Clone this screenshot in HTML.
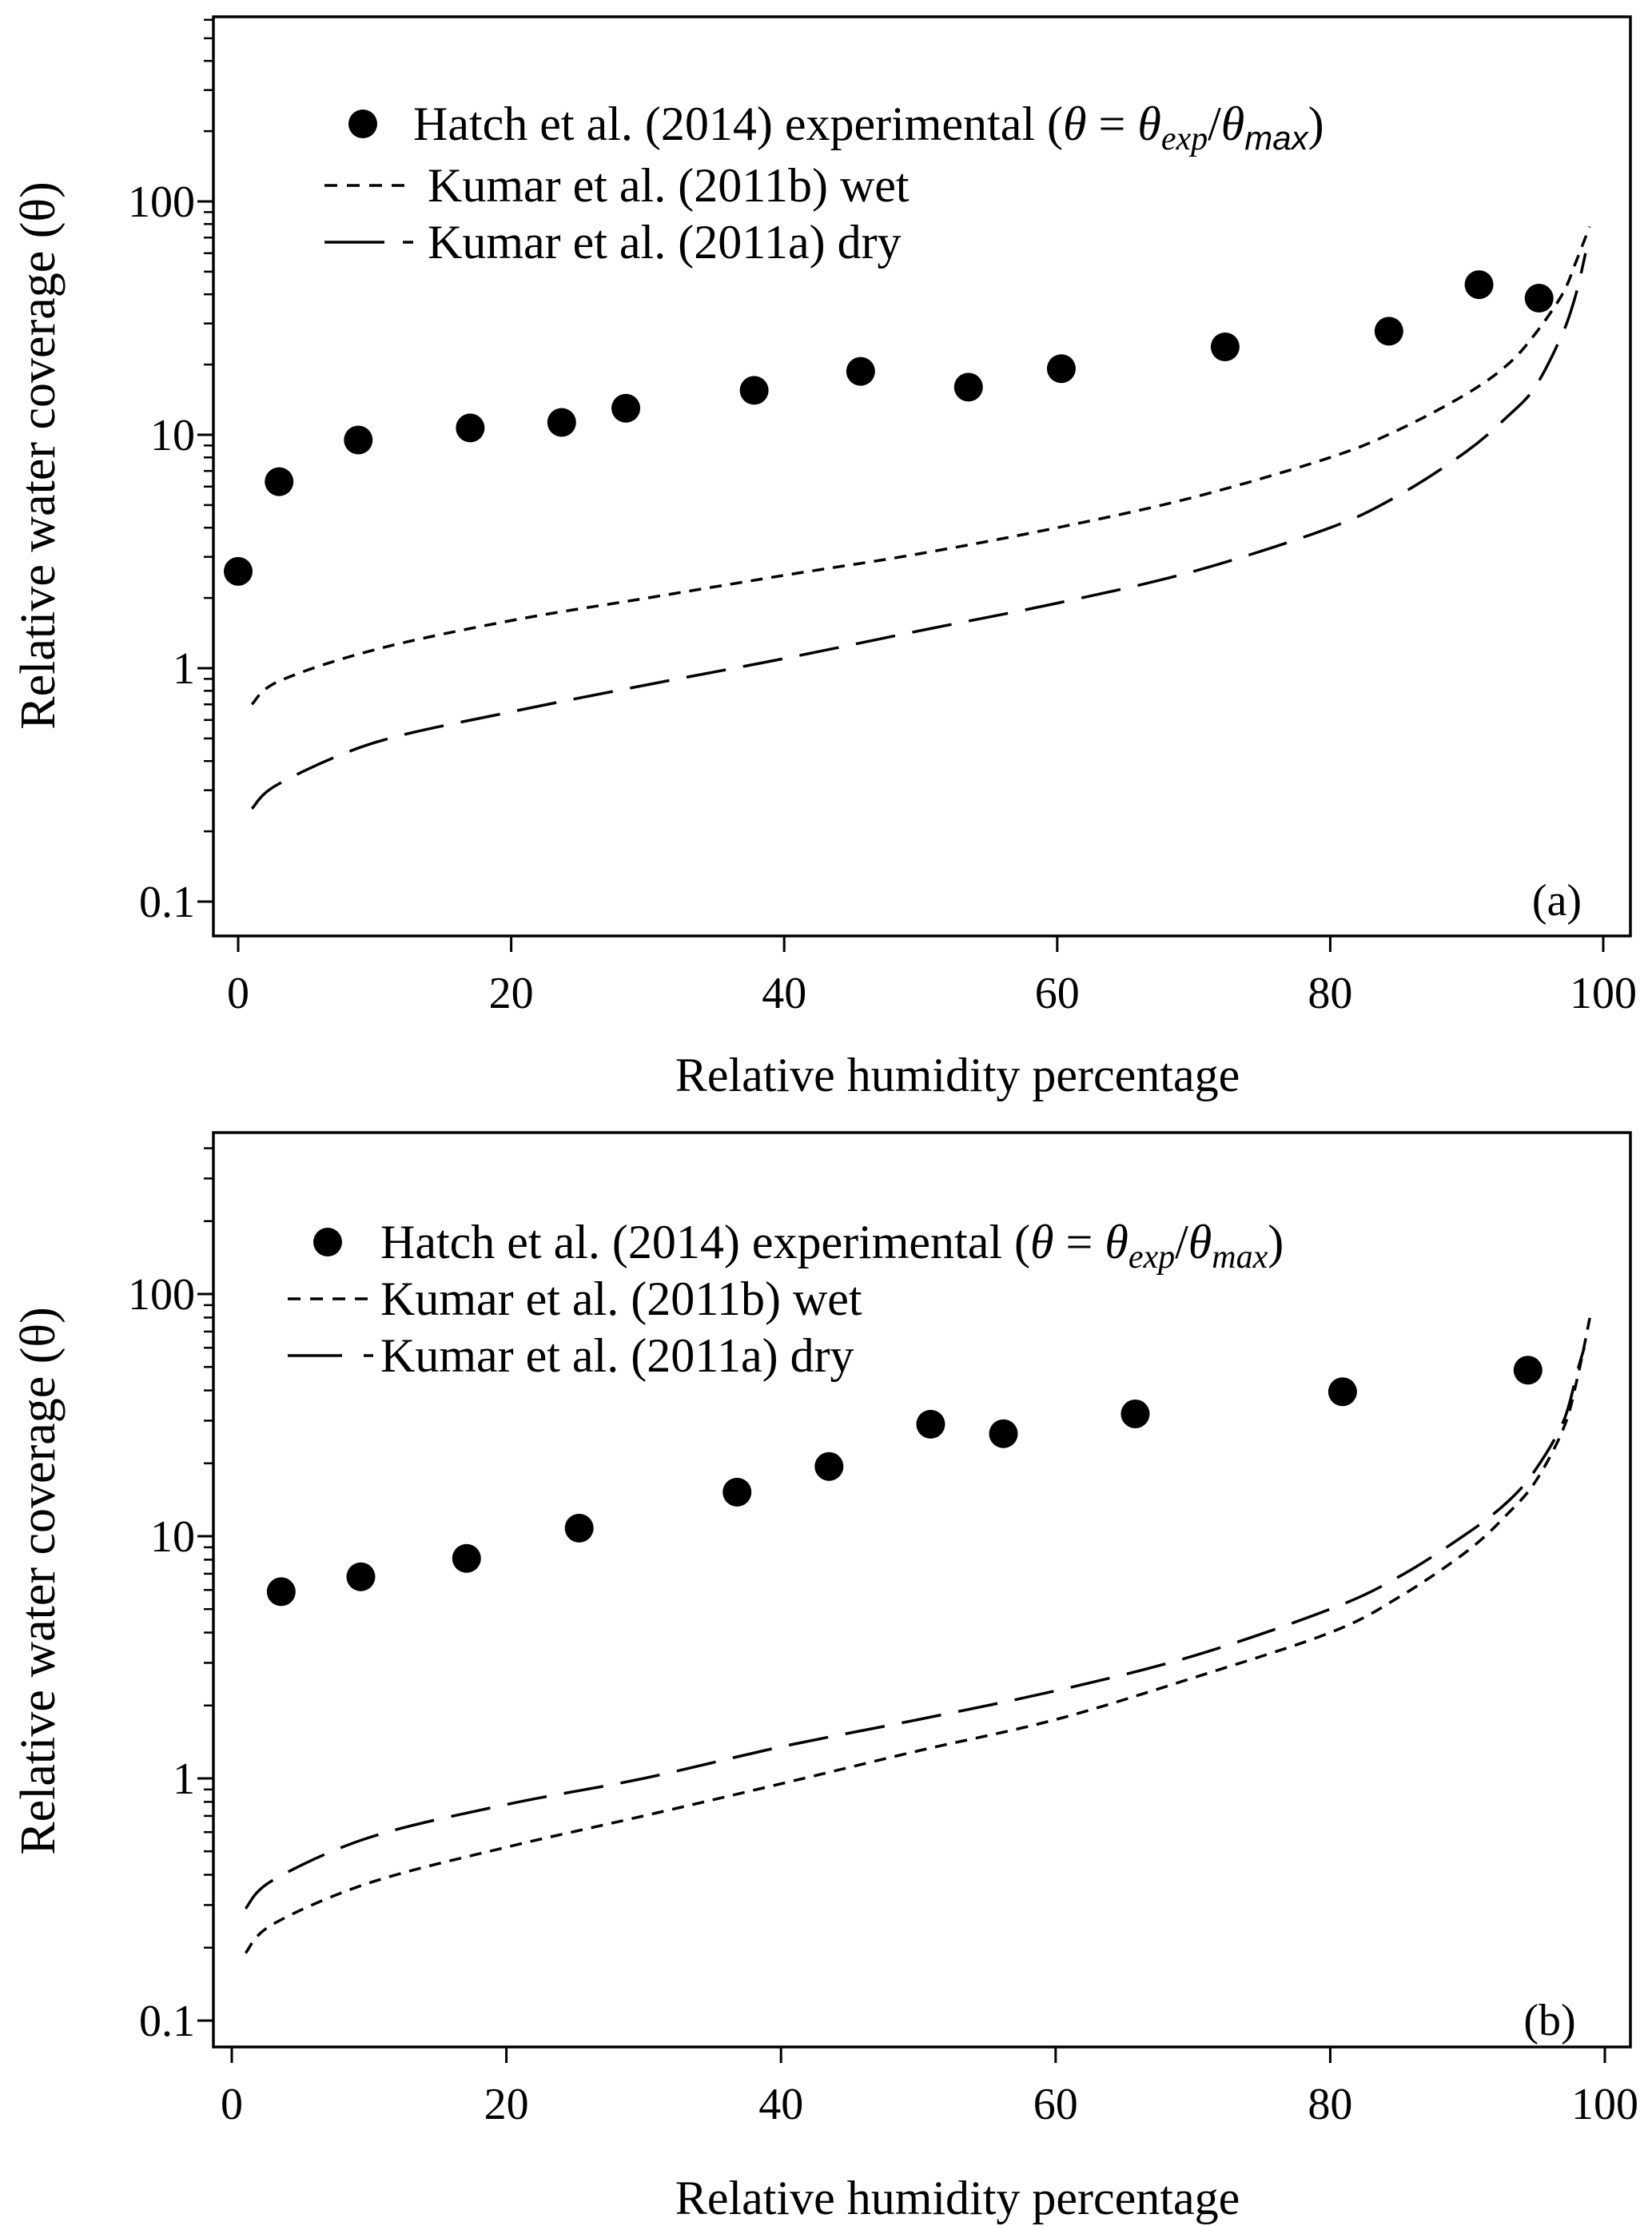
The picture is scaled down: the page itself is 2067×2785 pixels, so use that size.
<!DOCTYPE html>
<html><head><meta charset="utf-8">
<style>
html,body{margin:0;padding:0;background:#fff;}
svg{display:block;font-family:"Liberation Serif",serif;}
</style></head>
<body>
<svg id="chart" width="2067" height="2785" viewBox="0 0 2067 2785" xmlns="http://www.w3.org/2000/svg"></svg>
<script>
// Panel (a) data
const aPointsX = [0,3,8.8,17,23.7,28.4,37.8,45.6,53.5,60.3,72.3,84.3,90.9,95.3];
const aPointsY = [2.6,6.3,9.5,10.7,11.3,13,15.5,18.7,16,19.2,23.8,27.8,44,38.5];
const aWetX = [1,3,10,20,30,40,50,60,70,80,85,90,93,95,97,98,99];
const aWetY = [0.7,0.88,1.2,1.6,2.0,2.5,3.1,4.0,5.4,8,10.5,15,20,27,40,55,78];
const aDryX = [1,3,10,20,30,40,50,60,70,80,85,90,93,95,97,98,98.7];
const aDryY = [0.25,0.32,0.48,0.65,0.85,1.1,1.45,1.9,2.6,4,5.5,8.5,12,16,27,40,60];
// Panel (b) data
const bPointsX = [3.6,9.4,17.1,25.3,36.8,43.5,50.9,56.2,65.8,80.9,94.4];
const bPointsY = [5.9,6.8,8.1,10.8,15.2,19.4,29,26.5,32,39.5,48.5];
const bWetX = [1,3,10,20,30,40,50,60,70,80,85,90,93,95,97,98,99];
const bWetY = [0.19,0.25,0.37,0.52,0.7,0.95,1.3,1.75,2.6,4,5.6,8.7,12.5,17,28,45,85];
const bDryX = [1,3,10,20,30,40,50,60,70,80,85,90,93,95,97,98,98.5];
const bDryY = [0.29,0.38,0.57,0.78,1.0,1.35,1.75,2.3,3.2,5,6.8,10.3,14,19,30,48,60];
const xTicks = [0,20,40,60,80,100];
const yTicks = [0.1,1,10,100];
const yTickLabels = ["0.1","1","10","100"];

const NS="http://www.w3.org/2000/svg";
const svg=document.getElementById('chart');
function mk(tag,attrs,parent){const e=document.createElementNS(NS,tag);for(const k in attrs)e.setAttribute(k,attrs[k]);(parent||svg).appendChild(e);return e;}

function smoothPath(P){
  let d='M'+P[0][0].toFixed(1)+','+P[0][1].toFixed(1);
  for(let i=0;i<P.length-1;i++){
    const p0=P[Math.max(0,i-1)],p1=P[i],p2=P[i+1],p3=P[Math.min(P.length-1,i+2)];
    const c1x=p1[0]+(p2[0]-p0[0])/6,c1y=p1[1]+(p2[1]-p0[1])/6;
    const c2x=p2[0]-(p3[0]-p1[0])/6,c2y=p2[1]-(p3[1]-p1[1])/6;
    d+=` C${c1x.toFixed(1)},${c1y.toFixed(1)} ${c2x.toFixed(1)},${c2y.toFixed(1)} ${p2[0].toFixed(1)},${p2[1].toFixed(1)}`;
  }
  return d;
}

function panel(cfg){
  const g=mk('g',{});
  
  
  const xs=v=>cfg.x0+(cfg.x100-cfg.x0)*v/100;
  const ys=v=>cfg.y1-(cfg.y1-cfg.y10)*Math.log10(v);
  const frame=mk('rect',{x:267,y:cfg.top,width:2040-267,height:cfg.bottom-cfg.top,fill:'none',stroke:'#000','stroke-width':3.5},g);
  
  
  xTicks.forEach(t=>{
    const X=xs(t);
    mk('line',{x1:X,x2:X,y1:cfg.bottom,y2:cfg.bottom+20,stroke:'#000','stroke-width':3},g);
    const tx=mk('text',{x:X,y:cfg.bottom+90,'font-size':56,'text-anchor':'middle'},g);
    tx.textContent=t;
    
    
  });
  yTicks.forEach((t,i)=>{
    const Y=ys(t);
    mk('line',{x1:267,x2:247,y1:Y,y2:Y,stroke:'#000','stroke-width':3},g);
    const tx=mk('text',{x:244,y:Y+19,'font-size':56,'text-anchor':'end'},g);
    tx.textContent=yTickLabels[i];
    
    
  });
  for(let d=0.1;d<1000;d*=10){
    for(let m=2;m<=9;m++){
      const v=d*m, Y=ys(v);
      if(Y<cfg.top+2||Y>cfg.bottom-2)continue;
      mk('line',{x1:267,x2:255,y1:Y,y2:Y,stroke:'#000','stroke-width':2.5},g);
    }
  }
  const xl=mk('text',{x:1198,y:cfg.xlabY,'font-size':60,'text-anchor':'middle'},g);
  xl.textContent='Relative humidity percentage';
  
  
  const yl=mk('text',{x:0,y:0,'font-size':62,'text-anchor':'middle',transform:`translate(68,${cfg.ylabY}) rotate(-90)`},g);
  yl.textContent='Relative water coverage (θ)';
  
  
  function line(X,Y,dash,name){
    const P=X.map((v,i)=>[xs(v),ys(Y[i])]);
    const p=mk('path',{d:smoothPath(P),fill:'none',stroke:'#000','stroke-width':3.5,'stroke-dasharray':dash},g);
    
    
  }
  line(cfg.wetX,cfg.wetY,'15 11','wet-curve');
  line(cfg.dryX,cfg.dryY,'50 22','dry-curve');
  cfg.px.forEach((v,i)=>{
    const c=mk('circle',{cx:xs(v),cy:ys(cfg.py[i]),r:18,fill:'#000'},g);
    
    
  });
  const L=cfg.leg;
  const lg=mk('g',{},g);
  
  
  mk('circle',{cx:L.dotX,cy:L.y1,r:18,fill:'#000'},lg);
  const t1=mk('text',{x:L.tx,y:L.y1+20,'font-size':60},lg);
  t1.innerHTML='Hatch et al. (2014) experimental (<tspan font-style="italic">θ</tspan> = <tspan font-style="italic">θ</tspan><tspan font-style="italic" font-size="42" dy="12">exp</tspan><tspan dy="-12">/</tspan><tspan font-style="italic">θ</tspan><tspan font-style="italic" font-size="42" dy="12">'+(cfg.maxSans?'<tspan font-family="Liberation Sans">max</tspan>':'max')+'</tspan><tspan dy="-12">)</tspan>';
  
  
  mk('line',{x1:L.dashX1,x2:L.dashX2,y1:L.y2,y2:L.y2,stroke:'#000','stroke-width':3.5,'stroke-dasharray':'16 12'},lg);
  const t2=mk('text',{x:L.tx2,y:L.y2+20,'font-size':60},lg);
  t2.textContent='Kumar et al. (2011b) wet';
  
  
  mk('line',{x1:L.dashX1,x2:L.dashX2,y1:L.y3,y2:L.y3,stroke:'#000','stroke-width':3.5,'stroke-dasharray':L.dryDash},lg);
  const t3=mk('text',{x:L.tx2,y:L.y3+20,'font-size':60},lg);
  t3.textContent='Kumar et al. (2011a) dry';
  
  
  const pl=mk('text',{x:cfg.tagX,y:cfg.tagY,'font-size':56,'text-anchor':'middle'},g);
  pl.textContent=cfg.tag;
  
  
}

panel({name:'panel-a',top:21,bottom:1171,x0:298,x100:2006,y1:836,y10:544,
  xlabY:1365,ylabY:570,px:aPointsX,py:aPointsY,wetX:aWetX,wetY:aWetY,dryX:aDryX,dryY:aDryY,maxSans:true,
  leg:{dotX:454,y1:155,tx:517,tx2:535,y2:232,y3:303,dashX1:406,dashX2:517,dryDash:'75 23 13 100'},tag:'(a)',tagX:1948,tagY:1145});
panel({name:'panel-b',top:1417,bottom:2561,x0:290,x100:2008,y1:2225,y10:1922,
  xlabY:2770,ylabY:1978,px:bPointsX,py:bPointsY,wetX:bWetX,wetY:bWetY,dryX:bDryX,dryY:bDryY,maxSans:false,
  leg:{dotX:410,y1:1554,tx:476,tx2:476,y2:1625,y3:1696,dashX1:360,dashX2:467,dryDash:'68 27 12 100'},tag:'(b)',tagX:1939,tagY:2546});
</script>
</body></html>
